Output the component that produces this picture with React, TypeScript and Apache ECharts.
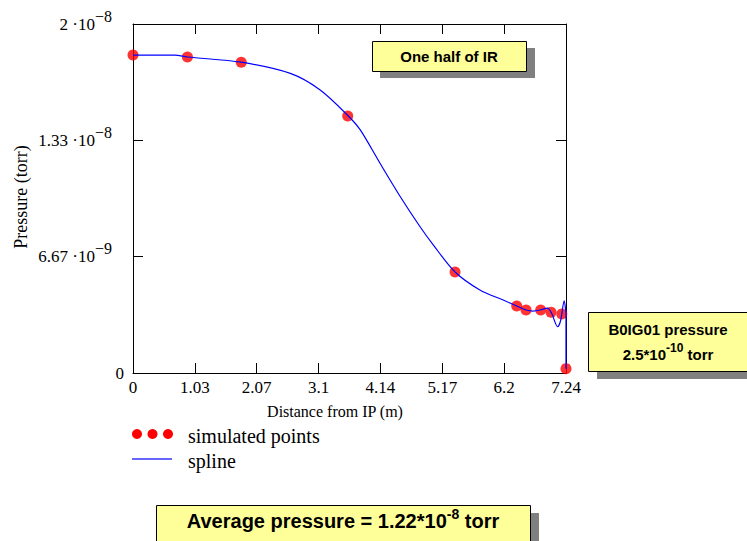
import React, { useEffect, useRef } from "react";
import * as echarts from "echarts";

// Values are in units of 1e-8 torr; x in metres.
const X_MAX = 7.24;
const X_STEP = X_MAX / 7;
const Y_MAX = 2;
const Y_STEP = Y_MAX / 3;

const xTickLabels = ["0", "1.03", "2.07", "3.1", "4.14", "5.17", "6.2", "7.24"];
const yTickBase = ["0", "6.67 ·10", "1.33 ·10", "2 ·10"];
const yTickExp = ["", "−9", "−8", "−8"];

// simulated points
const simX = [0, 0.91, 1.81, 3.59, 5.385, 6.416, 6.572, 6.817, 6.99, 7.17, 7.24];
const simY = [1.822, 1.811, 1.781, 1.473, 0.579, 0.384, 0.361, 0.361, 0.348, 0.338, 0.025];

// spline
const splineX = [0, 0.7, 0.91, 1.81, 2.63, 3.13, 3.6, 3.8, 4.13, 4.47, 4.8, 5.02, 5.385, 5.8, 6.19, 6.416, 6.572, 6.69, 6.81, 6.93, 7.0, 7.1, 7.15, 7.21, 7.235, 7.24, 7.24];
const splineY = [1.822, 1.822, 1.811, 1.781, 1.717, 1.622, 1.473, 1.393, 1.202, 1.01, 0.838, 0.734, 0.579, 0.476, 0.418, 0.384, 0.361, 0.355, 0.361, 0.372, 0.342, 0.265, 0.3, 0.414, 0.36, 0.34, 0.025];

const SERIF = "Liberation Serif, 'Times New Roman', serif";
const SANS = "Liberation Sans, Arial, sans-serif";

export default function App() {
  const ref = useRef<HTMLDivElement>(null);
  useEffect(() => {
    if (!ref.current) return;
    const chart = echarts.init(ref.current, undefined, { renderer: "svg" });
    const axisLine = { show: true, onZero: false, lineStyle: { color: "#000", width: 1 } };
    const axisTick = { show: true, inside: true, length: 10, lineStyle: { color: "#000", width: 1 } };
    const xAxisBase = {
      type: "value",
      min: 0,
      max: X_MAX,
      interval: X_STEP,
      splitLine: { show: false },
      axisLine,
      axisTick,
    };
    const yAxisBase = {
      type: "value",
      min: 0,
      max: Y_MAX,
      interval: Y_STEP,
      splitLine: { show: false },
      axisLine,
      axisTick,
    };
    const option: any = {
      animation: false,
      backgroundColor: "#fff",
      grid: { left: 133, top: 24, width: 433, height: 349 },
      xAxis: [
        {
          ...xAxisBase,
          position: "bottom",
          axisLabel: {
            show: true,
            margin: 6,
            showMaxLabel: true,
            showMinLabel: true,
            color: "#000",
            fontFamily: SERIF,
            fontSize: 17,
            formatter: (v: number) => xTickLabels[Math.round(v / X_STEP)] ?? "",
          },
        },
        { ...xAxisBase, position: "top", axisLabel: { show: false } },
      ],
      yAxis: [
        {
          ...yAxisBase,
          position: "left",
          axisLabel: {
            show: true,
            margin: 9,
            showMaxLabel: true,
            color: "#000",
            formatter: (v: number) => {
              const i = Math.round(v / Y_STEP);
              if (i === 0) return "{b|" + yTickBase[0] + "}";
              return "{b|" + yTickBase[i] + "}{s|" + yTickExp[i] + "}{p| }";
            },
            rich: {
              b: { fontFamily: SERIF, fontSize: 17, color: "#000", verticalAlign: "middle" },
              s: { fontFamily: SERIF, fontSize: 16, color: "#000", verticalAlign: "middle", padding: [0, 0, 16, 0] },
              p: { width: 12, fontSize: 10 },
            },
          },
        },
        { ...yAxisBase, position: "right", axisLabel: { show: false } },
      ],
      series: [
        {
          type: "scatter",
          xAxisIndex: 0,
          yAxisIndex: 0,
          symbol: "circle",
          symbolSize: 11,
          itemStyle: { color: "#ff0000" },
          data: simX.map((x, i) => [x, simY[i]]),
          z: 2,
        },
        {
          type: "line",
          xAxisIndex: 0,
          yAxisIndex: 0,
          showSymbol: false,
          smooth: 0.3,
          lineStyle: { color: "#0000ff", width: 1.2 },
          data: splineX.map((x, i) => [x, splineY[i]]),
          z: 3,
        },
      ],
      graphic: [
        {
          type: "text",
          x: 21,
          y: 197,
          rotation: Math.PI / 2,
          style: { text: "Pressure (torr)", fontFamily: SERIF, fontSize: 18, fill: "#000", align: "center", verticalAlign: "middle" },
        },
        {
          type: "text",
          x: 335,
          y: 411,
          style: { text: "Distance from IP (m)", fontFamily: SERIF, fontSize: 16, fill: "#000", align: "center", verticalAlign: "middle" },
        },
        // legend
        { type: "circle", shape: { cx: 137, cy: 434, r: 5 }, style: { fill: "#ff0000" } },
        { type: "circle", shape: { cx: 152.5, cy: 434, r: 5 }, style: { fill: "#ff0000" } },
        { type: "circle", shape: { cx: 168, cy: 434, r: 5 }, style: { fill: "#ff0000" } },
        {
          type: "text",
          x: 188,
          y: 436,
          style: { text: "simulated points", fontFamily: SERIF, fontSize: 20, fill: "#000", align: "left", verticalAlign: "middle" },
        },
        { type: "line", shape: { x1: 132, y1: 459, x2: 172, y2: 459 }, style: { stroke: "#3333ff", lineWidth: 1.5 } },
        {
          type: "text",
          x: 188,
          y: 461,
          style: { text: "spline", fontFamily: SERIF, fontSize: 20, fill: "#000", align: "left", verticalAlign: "middle" },
        },
        // box: One half of IR
        { type: "rect", shape: { x: 380, y: 48, width: 155, height: 30 }, style: { fill: "#808080" } },
        { type: "rect", shape: { x: 372.5, y: 41.5, width: 154, height: 30 }, style: { fill: "#ffff99", stroke: "#000", lineWidth: 1 } },
        {
          type: "text",
          x: 449,
          y: 56.5,
          style: { text: "One half of IR", fontFamily: SANS, fontWeight: "bold", fontSize: 15, fill: "#000", align: "center", verticalAlign: "middle" },
        },
        // box: B0IG01 pressure
        { type: "rect", shape: { x: 597, y: 320, width: 200, height: 59 }, style: { fill: "#808080" } },
        { type: "rect", shape: { x: 588.5, y: 312.5, width: 200, height: 59 }, style: { fill: "#ffff99", stroke: "#000", lineWidth: 1 } },
        {
          type: "text",
          x: 668,
          y: 329.5,
          style: { text: "B0IG01 pressure", fontFamily: SANS, fontWeight: "bold", fontSize: 15, fill: "#000", align: "center", verticalAlign: "middle" },
        },
        {
          type: "text",
          x: 668,
          y: 354,
          style: {
            text: "{b|2.5*10}{s|-10}{b| torr}",
            align: "center",
            verticalAlign: "middle",
            rich: {
              b: { fontFamily: SANS, fontWeight: "bold", fontSize: 15, fill: "#000", verticalAlign: "middle" },
              s: { fontFamily: SANS, fontWeight: "bold", fontSize: 12, fill: "#000", verticalAlign: "middle", padding: [0, 0, 12, 0] },
            },
          },
        },
        // box: Average pressure
        { type: "rect", shape: { x: 165, y: 513, width: 374, height: 60 }, style: { fill: "#808080" } },
        { type: "rect", shape: { x: 156.5, y: 505.5, width: 374, height: 60 }, style: { fill: "#ffff99", stroke: "#000", lineWidth: 1 } },
        {
          type: "text",
          x: 343,
          y: 521,
          style: {
            text: "{b|Average pressure = 1.22*10}{s|-8}{b| torr}",
            align: "center",
            verticalAlign: "middle",
            rich: {
              b: { fontFamily: SANS, fontWeight: "bold", fontSize: 20, fill: "#000", verticalAlign: "middle" },
              s: { fontFamily: SANS, fontWeight: "bold", fontSize: 14, fill: "#000", verticalAlign: "middle", padding: [0, 0, 14, 0] },
            },
          },
        },
      ],
    };
    chart.setOption(option);
    return () => chart.dispose();
  }, []);
  return (
    <div
      ref={ref}
      style={{ position: "absolute", left: 0, top: 0, width: 747, height: 541, background: "#fff" }}
    />
  );
}
